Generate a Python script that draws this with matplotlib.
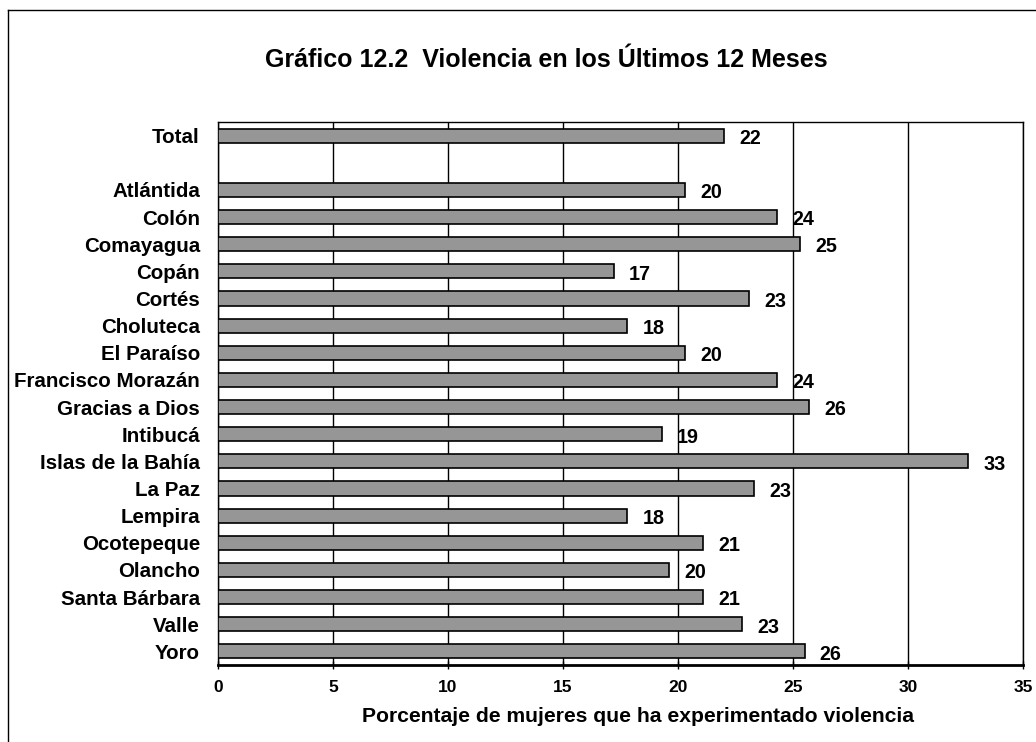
import matplotlib
matplotlib.use("Agg")
import matplotlib.pyplot as plt
from matplotlib.lines import Line2D
import numpy as np

plt.rcParams['font.family'] = ['Liberation Sans', 'DejaVu Sans']
plt.rcParams['font.weight'] = 'bold'

# Porcentaje de mujeres que ha experimentado violencia en los últimos 12 meses
total_label = "Total"
total_value = 22.0

departamentos = [
    "Atlántida", "Colón", "Comayagua", "Copán", "Cortés", "Choluteca",
    "El Paraíso", "Francisco Morazán", "Gracias a Dios", "Intibucá",
    "Islas de la Bahía", "La Paz", "Lempira", "Ocotepeque", "Olancho",
    "Santa Bárbara", "Valle", "Yoro",
]
valores = [
    20.3, 24.3, 25.3, 17.2, 23.1, 17.8,
    20.3, 24.3, 25.7, 19.3,
    32.6, 23.3, 17.8, 21.1, 19.6,
    21.1, 22.8, 25.5,
]
x_ticks = [0, 5, 10, 15, 20, 25, 30, 35]

titulo = "Gráfico 12.2  Violencia en los Últimos 12 Meses"
eje_x = "Porcentaje de mujeres que ha experimentado violencia"

labels = [total_label] + departamentos
values = [total_value] + valores
# Total sits on its own row, separated from the departments by an empty row
ypos = [0] + [i + 2 for i in range(len(departamentos))]

fig = plt.figure(figsize=(10.36, 7.42), dpi=100)
ax = fig.add_axes([218 / 1036, 77 / 742, 805 / 1036, 543 / 742])

ax.set_axisbelow(True)
ax.xaxis.grid(True, color='black', linewidth=1.0)
ax.barh(ypos, values, height=0.52, color='#969696', edgecolor='black',
        linewidth=1.2, zorder=3)

for y, v in zip(ypos, values):
    ax.annotate(str(int(np.floor(v + 0.5))), xy=(v, y), xytext=(11, -2),
                textcoords='offset points', ha='left', va='center',
                fontsize=14.2, fontweight='bold', zorder=4)

ax.set_xlim(0, 35)
ax.set_ylim(19.5, -0.5)
ax.set_xticks(x_ticks)
ax.set_xticklabels([str(t) for t in x_ticks], fontsize=12.5, fontweight='bold')
ax.set_yticks(ypos)
ax.set_yticklabels(labels, fontsize=14.8, fontweight='bold')
ax.tick_params(axis='y', length=0, pad=13)
ax.tick_params(axis='x', direction='inout', length=6, width=1.0, pad=8)

for side in ['left', 'top', 'right']:
    ax.spines[side].set_linewidth(1.0)
    ax.spines[side].set_color('black')
ax.spines['bottom'].set_linewidth(2.0)

ax.set_xlabel(eje_x, fontsize=15.2, fontweight='bold')
ax.xaxis.set_label_coords(420 / 805, -0.094)
ax.xaxis.label.set_va('center')

fig.text(546 / 1036, 1 - 60 / 742, titulo, ha='center', va='center',
         fontsize=18, fontweight='bold')

# Chart-area border (left and top edges visible)
fx = 8 / 1036
fy = 1 - 10 / 742
fig.add_artist(Line2D([fx, fx], [0, fy], transform=fig.transFigure,
                      color='black', linewidth=1.0))
fig.add_artist(Line2D([fx, 1], [fy, fy], transform=fig.transFigure,
                      color='black', linewidth=1.0))

fig.savefig("out.png", dpi=100)
